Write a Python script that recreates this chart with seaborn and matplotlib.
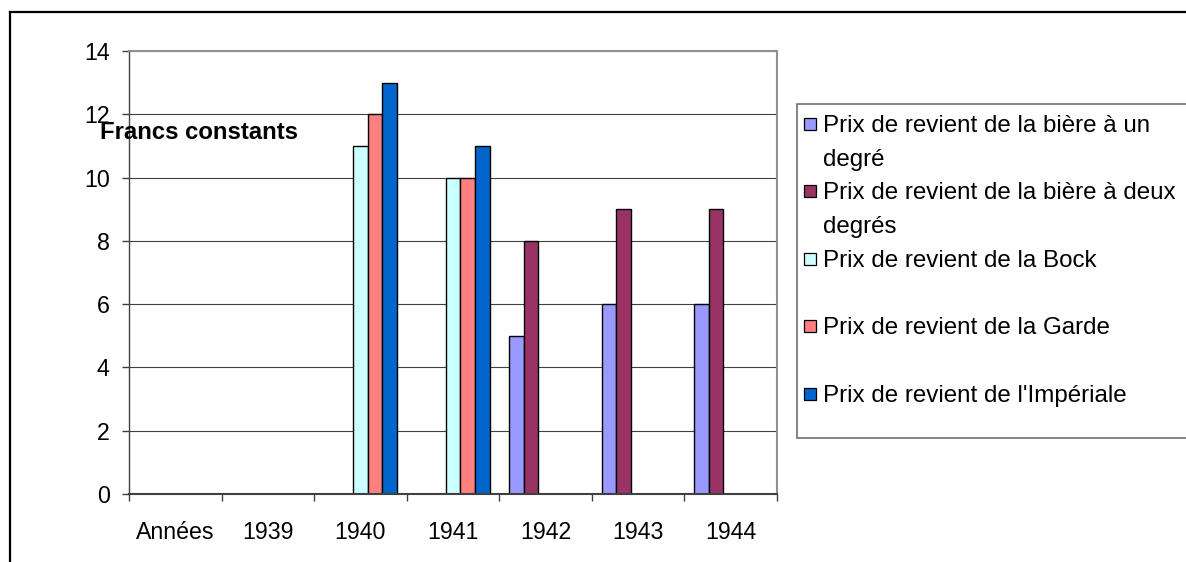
import numpy as np
import pandas as pd
import matplotlib
matplotlib.use("Agg")
import matplotlib.pyplot as plt
from matplotlib.patches import Rectangle
from matplotlib.lines import Line2D
import seaborn as sns

nan = np.nan

# Categories on the x axis
years = ["Années", "1939", "1940", "1941", "1942", "1943", "1944"]

# One list of values per series (francs constants)
un_degre = [nan, nan, nan, nan, 5, 6, 6]
deux_degres = [nan, nan, nan, nan, 8, 9, 9]
bock = [nan, nan, 11, 10, nan, nan, nan]
garde = [nan, nan, 12, 10, nan, nan, nan]
imperiale = [nan, nan, 13, 11, nan, nan, nan]

series_names = [
    "Prix de revient de la bière à un degré",
    "Prix de revient de la bière à deux degrés",
    "Prix de revient de la Bock",
    "Prix de revient de la Garde",
    "Prix de revient de l'Impériale",
]
legend_lines = [
    ["Prix de revient de la bière à un", "degré"],
    ["Prix de revient de la bière à deux", "degrés"],
    ["Prix de revient de la Bock"],
    ["Prix de revient de la Garde"],
    ["Prix de revient de l'Impériale"],
]
colors = ["#9999FF", "#993366", "#CCFFFF", "#FF8080", "#0066CC"]
yticks = [0, 2, 4, 6, 8, 10, 12, 14]
y_title = "Francs constants"

values = [un_degre, deux_degres, bock, garde, imperiale]
df = pd.DataFrame(
    [(y, s, v) for s, vals in zip(series_names, values) for y, v in zip(years, vals)],
    columns=["annee", "serie", "valeur"],
)

plt.rcParams["font.family"] = ["Liberation Sans", "DejaVu Sans"]

W, H = 1186, 562
fig = plt.figure(figsize=(W / 100, H / 100), dpi=100)
fig.patch.set_facecolor("white")

# Plot area in pixel coordinates
x0, x1, ytop, ybot = 129, 777, 51, 494
ax = fig.add_axes([x0 / W, 1 - ybot / H, (x1 - x0) / W, (ybot - ytop) / H])

sns.barplot(
    data=df, x="annee", y="valeur", hue="serie",
    order=years, hue_order=series_names, palette=colors,
    saturation=1, width=0.79, edgecolor="black", linewidth=1.0,
    errorbar=None, legend=False, ax=ax,
)

ax.set_xlim(-0.5, len(years) - 0.5)
ax.set_ylim(0, 14)
ax.set_yticks(yticks)
ax.set_yticklabels([str(t) for t in yticks])
ax.yaxis.grid(True, color="#404040", linewidth=0.8)
ax.xaxis.grid(False)
ax.set_axisbelow(True)
ax.set_xlabel("")
ax.set_ylabel("")

# Tick marks between categories, labels centred on categories
ax.set_xticks(np.arange(-0.5, len(years), 1.0))
ax.set_xticklabels([""] * len(np.arange(-0.5, len(years), 1.0)))
ax.set_xticks(np.arange(len(years)), minor=True)
ax.set_xticklabels(years, minor=True)
ax.tick_params(axis="x", which="major", direction="out", length=5, width=1.0, color="#404040")
ax.tick_params(axis="x", which="minor", length=0, pad=19.5, labelsize=16.7)
ax.tick_params(axis="y", direction="out", length=5, width=1.0, color="#404040",
               pad=9, labelsize=16.7)

ax.spines["left"].set_color("#404040")
ax.spines["left"].set_linewidth(1.0)
ax.spines["bottom"].set_color("#404040")
ax.spines["bottom"].set_linewidth(1.5)
for side in ["top", "right"]:
    ax.spines[side].set_color("#909090")
    ax.spines[side].set_linewidth(1.5)


def px(x, y):
    return x / W, 1 - y / H


# Value axis title placed inside the chart
fig.text(*px(100, 139), y_title, fontsize=17.2, fontweight="bold", va="baseline", ha="left")

# Legend box
lx0, ly0, ly1 = 797, 104, 438
fig.patches.append(Rectangle(px(lx0, ly1), (W + 10 - lx0) / W, (ly1 - ly0) / H,
                             transform=fig.transFigure, facecolor="white",
                             edgecolor="#707070", linewidth=1.2, clip_on=False))
first_baseline = 131.7
entry_step = 67.5
line_step = 34
for i, (lines, col) in enumerate(zip(legend_lines, colors)):
    base = first_baseline + i * entry_step
    fig.patches.append(Rectangle(px(804, base - 2), 12 / W, 12 / H,
                                 transform=fig.transFigure, facecolor=col,
                                 edgecolor="black", linewidth=0.9))
    for j, txt in enumerate(lines):
        fig.text(*px(823, base + j * line_step), txt, fontsize=17.4,
                 va="baseline", ha="left")

# Outer frame of the chart
fig.add_artist(Line2D([10 / W, 10 / W], [0, 1 - 12 / H], transform=fig.transFigure,
                      color="black", linewidth=1.6))
fig.add_artist(Line2D([10 / W, 1], [1 - 12 / H, 1 - 12 / H], transform=fig.transFigure,
                      color="black", linewidth=1.6))

fig.savefig("out.png", dpi=100, facecolor="white")
